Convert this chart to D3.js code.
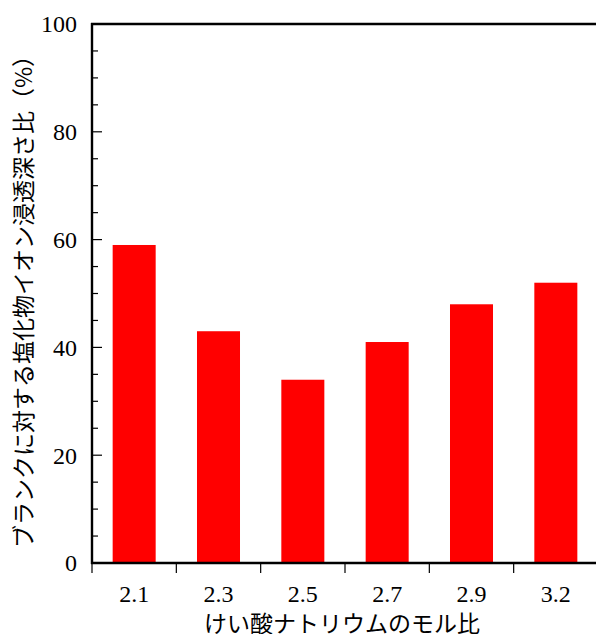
<!DOCTYPE html>
<html><head><meta charset="utf-8">
<script src="https://cdn.jsdelivr.net/npm/d3@7"></script>
<style>body{margin:0;background:#fff;}svg{display:block;}</style>
</head><body>
<script>
const categories = ["2.1","2.3","2.5","2.7","2.9","3.2"];
const values = [59, 43, 34, 41, 48, 52];
const yTicks = [0, 20, 40, 60, 80, 100];
const yMinorTicks = d3.range(0, 101, 5);
const xTitle = "けい酸ナトリウムのモル比";
const yTitle = "ブランクに対する塩化物イオン浸透深さ比（%）";

const W = 596, H = 634;
const mLeft = 92, mTop = 24, mBottom = 563, bandRight = 598;
const svg = d3.select("body").append("svg").attr("width", W).attr("height", H);

const x = d3.scaleBand().domain(categories).range([mLeft, bandRight]).paddingInner(0.49).paddingOuter(0.245);
const xb = d3.scaleBand().domain(categories).range([mLeft, bandRight]);
const y = d3.scaleLinear().domain([0, 100]).range([mBottom, mTop]);

// bars
svg.append("g").selectAll("rect").data(values).join("rect")
  .attr("x", (d, i) => x(categories[i]))
  .attr("width", x.bandwidth())
  .attr("y", d => y(d))
  .attr("height", d => y(0) - y(d))
  .attr("fill", "#ff0000");

// y minor ticks (inward)
svg.append("g").selectAll("line").data(yMinorTicks).join("line")
  .attr("x1", mLeft).attr("x2", d => mLeft + (d % 20 === 0 ? 10 : 6))
  .attr("y1", d => y(d)).attr("y2", d => y(d))
  .attr("stroke", "#000").attr("stroke-width", 1.2);

// x ticks at band boundaries
svg.append("g").selectAll("line").data(categories).join("line")
  .attr("x1", d => xb(d)).attr("x2", d => xb(d))
  .attr("y1", mBottom).attr("y2", mBottom + 10)
  .attr("stroke", "#000").attr("stroke-width", 1.2);

// axis lines
svg.append("line").attr("x1", mLeft).attr("x2", mLeft).attr("y1", mTop - 1).attr("y2", mBottom + 1)
  .attr("stroke", "#000").attr("stroke-width", 2.4);
svg.append("line").attr("x1", mLeft - 1).attr("x2", W).attr("y1", mBottom).attr("y2", mBottom)
  .attr("stroke", "#000").attr("stroke-width", 2.4);
svg.append("line").attr("x1", mLeft - 1).attr("x2", W).attr("y1", mTop).attr("y2", mTop)
  .attr("stroke", "#000").attr("stroke-width", 2.4);

// y tick labels
svg.append("g").selectAll("text").data(yTicks).join("text")
  .attr("x", 77).attr("y", d => y(d)).attr("dy", "0.35em")
  .attr("text-anchor", "end")
  .attr("font-family", "'Liberation Serif','Times New Roman',serif").attr("font-size", 24)
  .text(d => d);

// x tick labels
svg.append("g").selectAll("text").data(categories).join("text")
  .attr("x", d => xb(d) + xb.bandwidth() / 2).attr("y", 602)
  .attr("text-anchor", "middle")
  .attr("font-family", "'Liberation Serif','Times New Roman',serif").attr("font-size", 24)
  .text(d => d);

// titles
svg.append("text").attr("x", 342).attr("y", 632).attr("text-anchor", "middle")
  .attr("font-family", "'Noto Sans CJK JP',sans-serif").attr("font-size", 23)
  .text(xTitle);
svg.append("text").attr("transform", "translate(32,296) rotate(-90)").attr("text-anchor", "middle")
  .attr("font-family", "'Noto Sans CJK JP',sans-serif").attr("font-size", 23)
  .text(yTitle);
</script>
</body></html>
